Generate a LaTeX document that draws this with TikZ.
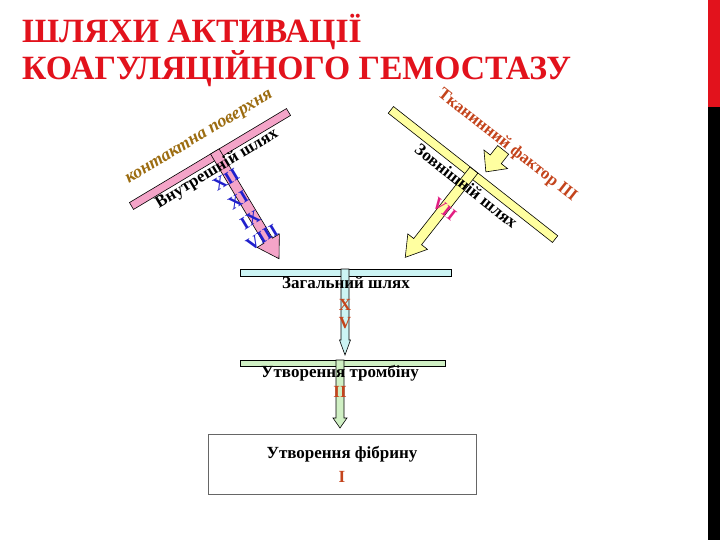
\documentclass[tikz,border=0pt]{standalone}
\usepackage{fontspec}
\setmainfont{Liberation Serif}
\newfontfamily\titlefont{Liberation Serif}[FakeStretch=0.99]

\definecolor{titlered}{RGB}{226,18,28}
\definecolor{pathpink}{RGB}{244,164,200}
\definecolor{pathyellow}{RGB}{255,255,160}
\definecolor{pathcyan}{RGB}{204,244,244}
\definecolor{pathgreen}{RGB}{208,240,196}
\definecolor{factorred}{RGB}{196,68,28}
\definecolor{contactgold}{RGB}{156,108,16}
\definecolor{numblue}{RGB}{32,32,204}
\definecolor{nummagenta}{RGB}{226,30,130}

% block arrow: style, start, length, half shaft, half head, head length
\newcommand{\blockarrow}[6]{%
  \draw[#1] (#2) ++(-#4,0) -- ++(0,#3-#6) -- ++(#4-#5,0) -- ++(#5,#6)
    -- ++(#5,-#6) -- ++(#4-#5,0) -- ++(0,#6-#3) -- cycle;}

\begin{document}
\begin{tikzpicture}[x=1pt, y=-1pt,
  bar/.style={draw=black, line width=0.6pt, inner sep=0pt},
  arrowbody/.style={draw=black, line width=0.6pt, line join=miter},
  pathtext/.style={inner sep=0pt, font=\fontsize{17}{20}\selectfont\bfseries},
  factor/.style={pathtext, text=factorred},
  titletext/.style={anchor=base west, inner sep=0pt, text=titlered,
    font=\fontsize{34}{41}\titlefont\bfseries}]
\useasboundingbox (0,0) rectangle (720,540);
\fill[white] (0,0) rectangle (720,540);

% title and edge strip
\node[titletext] (title1) at (22,43) {ШЛЯХИ АКТИВАЦІЇ};
\node[titletext] (title2) at (22,80) {КОАГУЛЯЦІЙНОГО ГЕМОСТАЗУ};
\fill[titlered] (708,0) rectangle (720,107);
\fill[black] (708,107) rectangle (720,540);

% intrinsic pathway
\begin{scope}[shift={(210,159)}, rotate=30.9, transform shape]
  \node[bar, fill=pathpink, minimum width=183pt, minimum height=8pt] (innerbar) at (0,0) {};
  \coordinate (innerfoot) at (8,-4);
  \blockarrow{arrowbody, fill=pathpink}{innerfoot}{125}{5}{13}{21}
  \node[pathtext, font=\fontsize{18}{20}\selectfont\bfseries\itshape, text=contactgold] (contact) at (2,-23) {контактна поверхня};
  \node[pathtext] (innername) at (1,12) {Внутрешній шлях};
  \node[pathtext, font=\fontsize{18}{20}\selectfont\bfseries, text=numblue] (f12) at (3,26) {XII};
  \node[pathtext, font=\fontsize{18}{20}\selectfont\bfseries, text=numblue] (f11) at (3,50) {XI};
  \node[pathtext, font=\fontsize{18}{20}\selectfont\bfseries, text=numblue] (f9) at (3,73) {IX};
  \node[pathtext, font=\fontsize{18}{20}\selectfont\bfseries, text=numblue] (f8) at (4.5,94) {VIII};
\end{scope}

% extrinsic pathway
\begin{scope}[shift={(473,174.5)}, rotate=-38.2, transform shape]
  \node[bar, fill=pathyellow, minimum width=209pt, minimum height=8.5pt] (outerbar) at (0,0) {};
  \coordinate (outerfoot) at (-2,-4);
  \blockarrow{arrowbody, fill=pathyellow}{outerfoot}{111}{5}{12.5}{20}
  \coordinate (tissuefoot) at (8.5,-38);
  \blockarrow{arrowbody, fill=pathyellow}{tissuefoot}{28}{7}{15}{16}
  \node[factor] (tissue) at (9,-44) {Тканинний фактор III};
  \node[pathtext] (outername) at (2,13) {Зовнішній шлях};
  \node[pathtext, text=nummagenta] (f7) at (-1,45) {VII};
\end{scope}

% common pathway
\node[bar, fill=pathcyan, minimum width=211pt, minimum height=7pt] (commonbar) at (345.5,272.5) {};
\coordinate (commonfoot) at (345,269);
\blockarrow{arrowbody, fill=pathcyan}{commonfoot}{86}{4}{5.5}{15}
\node[pathtext] (commonname) at (346,283) {Загальний шлях};
\node[factor] (f10) at (345,305) {X};
\node[factor] (f5) at (345,323) {V};

% thrombin
\node[bar, fill=pathgreen, minimum width=205pt, minimum height=6pt] (thrombinbar) at (343,363) {};
\coordinate (thrombinfoot) at (340,360);
\blockarrow{arrowbody, fill=pathgreen}{thrombinfoot}{68}{4}{7}{10}
\node[pathtext] (thrombin) at (340,373) {Утворення тромбіну};
\node[factor] (f2) at (340,392) {II};

% fibrin
\node[draw=black!60, line width=0.8pt, fill=white, minimum width=268pt, minimum height=60pt,
  align=center, inner sep=0pt, font=\fontsize{17}{20}\selectfont\bfseries] (fibrin) at (342,464)
  {Утворення фібрину\\[4pt]{\color{factorred}I}};
\end{tikzpicture}
\end{document}
